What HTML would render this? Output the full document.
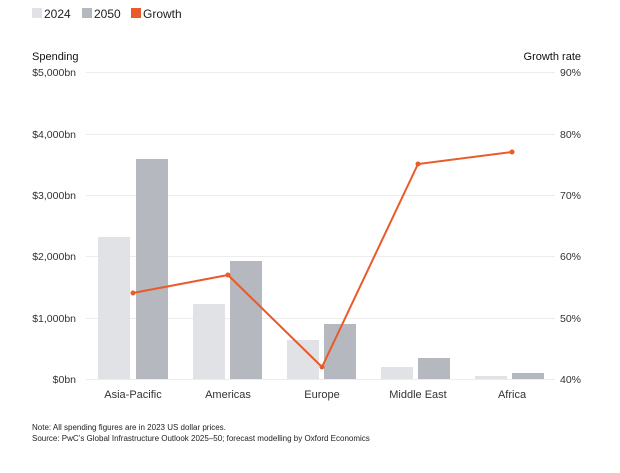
<!DOCTYPE html>
<html><head><meta charset="utf-8"><style>
body{margin:0;background:#fff;font-family:"Liberation Sans",Arial,sans-serif;}
</style></head><body>
<svg width="620" height="468" viewBox="0 0 620 468" xmlns="http://www.w3.org/2000/svg" font-family="Liberation Sans, Arial, sans-serif">
<rect width="620" height="468" fill="#fff"/>
<rect x="32" y="8" width="10" height="10" fill="#e0e2e5"/>
<text x="44" y="18" font-size="12" fill="#222">2024</text>
<rect x="82" y="8" width="10" height="10" fill="#b5b8be"/>
<text x="94" y="18" font-size="12" fill="#222">2050</text>
<rect x="131" y="8" width="10" height="10" fill="#ea5a2b"/>
<text x="143" y="18" font-size="12" fill="#222">Growth</text>
<text x="32" y="60" font-size="11" fill="#111">Spending</text>
<text x="581" y="60" font-size="11" fill="#111" text-anchor="end">Growth rate</text>
<g stroke="#ececec" stroke-width="1">
<line x1="86" x2="555" y1="72.5" y2="72.5"/>
<line x1="86" x2="555" y1="134.5" y2="134.5"/>
<line x1="86" x2="555" y1="195.5" y2="195.5"/>
<line x1="86" x2="555" y1="256.5" y2="256.5"/>
<line x1="86" x2="555" y1="318.5" y2="318.5"/>
<line x1="86" x2="555" y1="379.5" y2="379.5"/>
</g>
<g font-size="10.5" fill="#333" text-anchor="end">
<text x="76" y="76">$5,000bn</text><text x="76" y="138">$4,000bn</text><text x="76" y="199">$3,000bn</text>
<text x="76" y="260">$2,000bn</text><text x="76" y="322">$1,000bn</text><text x="76" y="383">$0bn</text>
</g>
<g font-size="10.5" fill="#333" text-anchor="end">
<text x="581" y="76">90%</text><text x="581" y="138">80%</text><text x="581" y="199">70%</text>
<text x="581" y="260">60%</text><text x="581" y="322">50%</text><text x="581" y="383">40%</text>
</g>
<g fill="#e0e2e5">
<rect x="98" y="237" width="32" height="142"/><rect x="193" y="304" width="32" height="75"/>
<rect x="287" y="340" width="32" height="39"/><rect x="381" y="367" width="32" height="12"/>
<rect x="475" y="376" width="32" height="3"/>
</g>
<g fill="#b5b8be">
<rect x="136" y="159" width="32" height="220"/><rect x="230" y="261" width="32" height="118"/>
<rect x="324" y="324" width="32" height="55"/><rect x="418" y="358" width="32" height="21"/>
<rect x="512" y="373" width="32" height="6"/>
</g>
<polyline points="133,293 228,275 322,367 418,164 512,152" fill="none" stroke="#ea5a2b" stroke-width="2"/>
<g fill="#ea5a2b">
<circle cx="133" cy="293" r="2.5"/><circle cx="228" cy="275" r="2.5"/><circle cx="322" cy="367" r="2.5"/>
<circle cx="418" cy="164" r="2.5"/><circle cx="512" cy="152" r="2.5"/>
</g>
<g font-size="11" fill="#333" text-anchor="middle">
<text x="133" y="398">Asia-Pacific</text><text x="228" y="398">Americas</text><text x="322" y="398">Europe</text>
<text x="418" y="398">Middle East</text><text x="512" y="398">Africa</text>
</g>
<text x="32" y="430" font-size="8" fill="#222">Note: All spending figures are in 2023 US dollar prices.</text>
<text x="32" y="441" font-size="8" fill="#222">Source: PwC’s Global Infrastructure Outlook 2025–50; forecast modelling by Oxford Economics</text>
</svg>
</body></html>
